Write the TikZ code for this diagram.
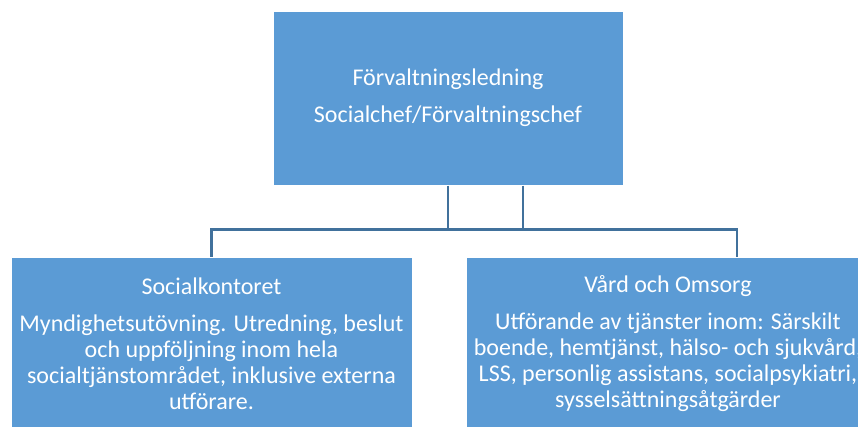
\documentclass[tikz,border=0pt]{standalone}
\usepackage{fontspec}
\setmainfont{Carlito}
\definecolor{boxblue}{HTML}{5B9BD5}
\definecolor{linkblue}{HTML}{41719C}
\tikzset{
	orgbox/.style={draw=white, line width=1, fill=boxblue, text=white, align=center,
		font=\fontsize{24}{26}\selectfont, minimum height=174},
	link/.style={draw=linkblue, line width=2.2}
}

\begin{document}
\begin{tikzpicture}[x=1pt, y=-1pt]
		% Frame
		\useasboundingbox (0,0) rectangle (858,426);
		\clip (0,0) rectangle (858,426);
		
		% Boxes
		\node[orgbox, minimum width=350] (ledning) at (448,98) {Förvaltningsledning\\[11pt]Socialchef/Förvaltningschef};
		\node[orgbox, minimum width=401] (soc) at (211.5,344) {Socialkontoret\\[11pt]Myndighetsutövning. Utredning, beslut\\och uppföljning inom hela\\socialtjänstområdet, inklusive externa\\utförare.};
		\node[orgbox, minimum width=404] (vard) at (668,344) {Vård och Omsorg\\[11pt]Utförande av tjänster inom: Särskilt\\boende, hemtjänst, hälso- och sjukvård,\\LSS, personlig assistans, socialpsykiatri,\\sysselsättningsåtgärder};
		
		% Connectors
		\draw[link] ([xshift=75pt]ledning.south) -- ++(0,44) -| (soc.north);
		\draw[link] (ledning.south) -- ++(0,44) -| ([xshift=69pt]vard.north);
	\end{tikzpicture}
\end{document}
